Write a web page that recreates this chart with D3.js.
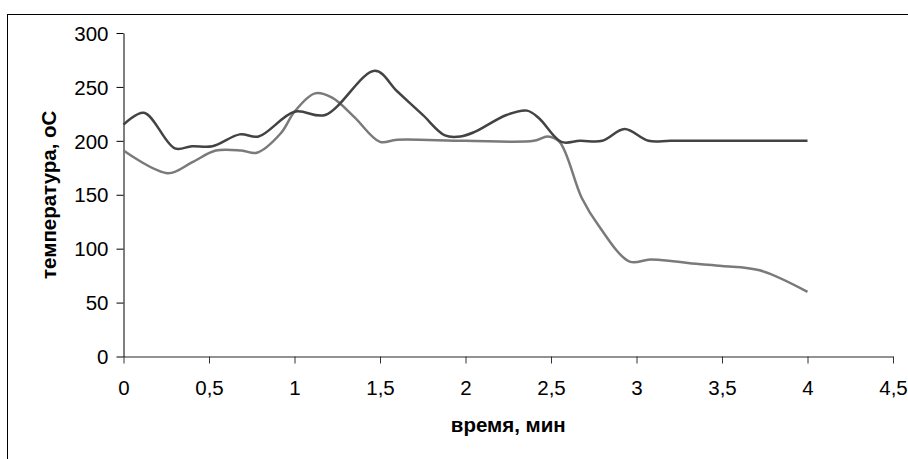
<!DOCTYPE html>
<html lang="ru">
<head>
    <meta charset="UTF-8">
    <title>температура</title>
    <style>
        body { margin: 0; background: #fff; }
        svg { display: block; }
        .tick text { font-family: Arial, "Liberation Sans", sans-serif; font-size: 20.5px; fill: #000; }
        .title { font-family: Arial, "Liberation Sans", sans-serif; font-size: 20.5px; font-weight: bold; fill: #000; }
    </style>
</head>
<body>
    <svg id="chart" width="908" height="459"></svg>

    <script src="https://d3js.org/d3.v7.min.js"></script>
    <script>
        // data (time in minutes, temperature in °C)
        const time1 = [0, 0.12, 0.3, 0.4, 0.52, 0.68, 0.79, 1.0, 1.18, 1.47, 1.6, 1.75, 1.88, 1.97, 2.05, 2.24, 2.36, 2.43, 2.56, 2.67, 2.8, 2.93, 3.07, 3.2, 3.5, 4.0];
        const temp1 = [215, 226, 193, 195, 195, 206, 204, 227, 224, 265, 246, 224, 205, 204, 208, 224, 228, 221, 199, 200, 200, 211, 200, 200, 200, 200];

        const time2 = [0, 0.26, 0.4, 0.54, 0.69, 0.78, 0.92, 1.0, 1.12, 1.22, 1.35, 1.5, 1.6, 2.0, 2.4, 2.48, 2.55, 2.68, 2.78, 2.96, 3.08, 3.23, 3.35, 3.5, 3.72, 4.0];
        const temp2 = [191, 170, 180, 191, 191, 189, 207, 227, 244, 240, 222, 199, 201, 200, 200, 204, 199, 147, 121, 88, 90, 88, 86, 84, 80, 60];

        const xTicks = [0, 0.5, 1, 1.5, 2, 2.5, 3, 3.5, 4, 4.5];
        const yTicks = [0, 50, 100, 150, 200, 250, 300];

        const svg = d3.select('#chart');

        // outer frame (runs off the right and bottom edges)
        svg.append('rect')
            .attr('x', 7.5).attr('y', 14.5)
            .attr('width', 1000).attr('height', 1000)
            .attr('fill', 'none').attr('stroke', '#000');

        const x = d3.scaleLinear().domain([0, 4.5]).range([123.5, 893]);
        const y = d3.scaleLinear().domain([0, 300]).range([356.5, 33]);

        const fmt = d => String(d).replace('.', ',');

        const xAxis = svg.append('g')
            .attr('transform', 'translate(0,' + y(0) + ')')
            .call(d3.axisBottom(x).tickValues(xTicks).tickFormat(fmt).tickSize(7).tickSizeOuter(0));
        xAxis.select('.domain').attr('stroke', '#6e6e6e').attr('stroke-width', 1.5);
        xAxis.selectAll('.tick line').attr('stroke', '#333');
        xAxis.selectAll('.tick text').attr('dy', 0).attr('y', 38);

        const yAxis = svg.append('g')
            .attr('transform', 'translate(' + x(0) + ',0)')
            .call(d3.axisLeft(y).tickValues(yTicks).tickSize(7).tickSizeOuter(0));
        yAxis.select('.domain').attr('stroke', '#000');
        yAxis.selectAll('.tick text').attr('x', -15).attr('dy', '0.35em');

        // axis titles
        svg.append('text')
            .attr('class', 'title')
            .attr('x', (x(0) + x(4.5)) / 2)
            .attr('y', 432)
            .attr('text-anchor', 'middle')
            .text('время, мин');

        svg.append('text')
            .attr('class', 'title')
            .attr('transform', 'translate(56,' + (y(0) + y(300)) / 2 + ') rotate(-90)')
            .attr('text-anchor', 'middle')
            .text('температура, оС');

        // the two smoothed series
        const line = d3.line()
            .x(d => x(d[0]))
            .y(d => y(d[1]))
            .curve(d3.curveCatmullRom.alpha(0.5));

        const series = [
            { t: time2, v: temp2, color: '#7a7a7a' },
            { t: time1, v: temp1, color: '#434343' }
        ];

        series.forEach(s => {
            svg.append('path')
                .datum(s.t.map((t, i) => [t, s.v[i]]))
                .attr('d', line)
                .attr('fill', 'none')
                .attr('stroke', s.color)
                .attr('stroke-width', 2.5)
                .attr('stroke-linejoin', 'round');
        });
    </script>
</body>
</html>
